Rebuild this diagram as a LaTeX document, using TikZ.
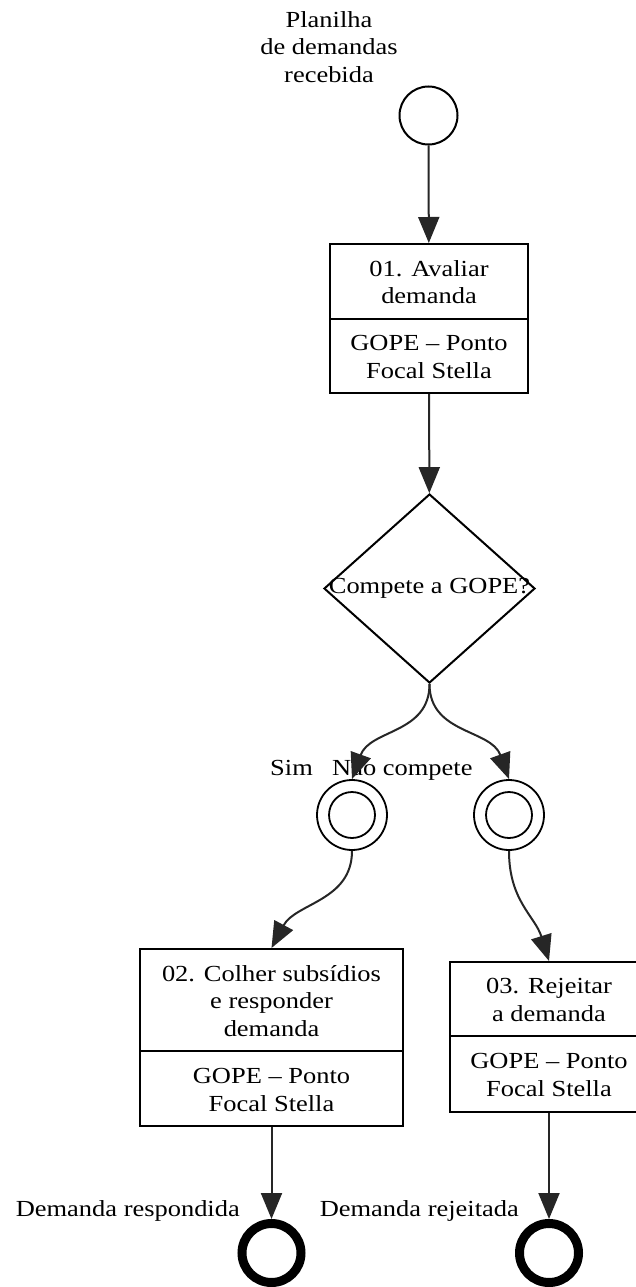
\documentclass[tikz,border=0pt]{standalone}
\usepackage{fontspec}
\setmainfont[FakeStretch=1.15]{Liberation Serif}
\usetikzlibrary{arrows.meta,shapes.geometric}

\begin{document}
\begin{tikzpicture}[x=1pt,y=-1pt,
  every node/.style={font=\fontsize{23}{27.5}\selectfont},
  txt/.style={align=center, inner sep=0pt},
  flow/.style={line width=2pt, draw=black!85, -{Triangle[length=26pt,width=21pt]}},
  taskbox/.style={draw, line width=2pt, inner sep=0pt},
  divider/.style={line width=2pt},
  startev/.style={circle, draw, line width=2pt, minimum size=58pt, inner sep=0pt},
  midev/.style={circle, draw, line width=1.8pt, minimum size=70pt, inner sep=0pt},
  endev/.style={circle, draw, line width=9pt, minimum size=59pt, inner sep=0pt},
  gate/.style={diamond, draw, line width=2pt, minimum width=211pt, minimum height=189pt, inner sep=0pt},
]
\useasboundingbox (0,0) rectangle (636,1287);
\clip (0,0) rectangle (636,1287);

% start event
\node[startev] (s) at (428.5,115.5) {};
\node[txt] (sl) at (329,47) {Planilha\\de demandas\\recebida};

% task 01
\node[taskbox, minimum width=198pt, minimum height=149pt] (t1) at (429,318.5) {};
\draw[divider] (330,319) -- (528,319);
\node[txt] (t1a) at (429,282) {01. Avaliar\\demanda};
\node[txt] (t1b) at (429,357) {GOPE -- Ponto\\Focal Stella};

% gateway
\node[gate] (g) at (429.5,588.5) {};
\node[txt] (gl) at (429.5,588) {Compete a GOPE?};

% intermediate events
\node[midev] (e1) at (352,815) {};
\draw[line width=1.8pt] (e1.center) circle[radius=23pt];
\node[midev] (e2) at (509,815) {};
\draw[line width=1.8pt] (e2.center) circle[radius=23pt];
\node[anchor=base west, inner sep=0pt] (ls) at (270,775) {Sim};
\node[anchor=base west, inner sep=0pt] (ln) at (332,775) {Não compete};

% task 02
\node[taskbox, minimum width=263pt, minimum height=177pt] (t2) at (271.5,1037.5) {};
\draw[divider] (140,1051) -- (403,1051);
\node[txt] (t2a) at (271.5,1001) {02. Colher subsídios\\e responder\\demanda};
\node[txt] (t2b) at (271.5,1090) {GOPE -- Ponto\\Focal Stella};

% task 03
\node[taskbox, minimum width=198pt, minimum height=150pt] (t3) at (549,1037) {};
\draw[divider] (450,1036) -- (648,1036);
\node[txt] (t3a) at (549,1000) {03. Rejeitar\\a demanda};
\node[txt] (t3b) at (549,1075) {GOPE -- Ponto\\Focal Stella};

% end events
\node[endev] (x1) at (271.5,1253) {};
\node[anchor=base east, inner sep=0pt] (lx1) at (240,1216) {Demanda respondida};
\node[endev] (x2) at (549,1253) {};
\node[anchor=base east, inner sep=0pt] (lx2) at (519,1216) {Demanda rejeitada};

% sequence flows
\draw[flow] (s) -- (t1);
\draw[flow] (t1) -- (g);
\draw[flow] (g.south) .. controls +(0,50) and +(18,-50) .. (e1.north);
\draw[flow] (g.south) .. controls +(0,50) and +(-18,-50) .. (e2.north);
\draw[flow] (e1.south) .. controls +(0,50) and +(24,-45) .. (t2.north);
\draw[flow] (e2.south) .. controls +(0,50) and +(-14,-45) .. (t3.north);
\draw[flow] (t2) -- (x1);
\draw[flow] (t3) -- (x2);
\end{tikzpicture}
\end{document}
